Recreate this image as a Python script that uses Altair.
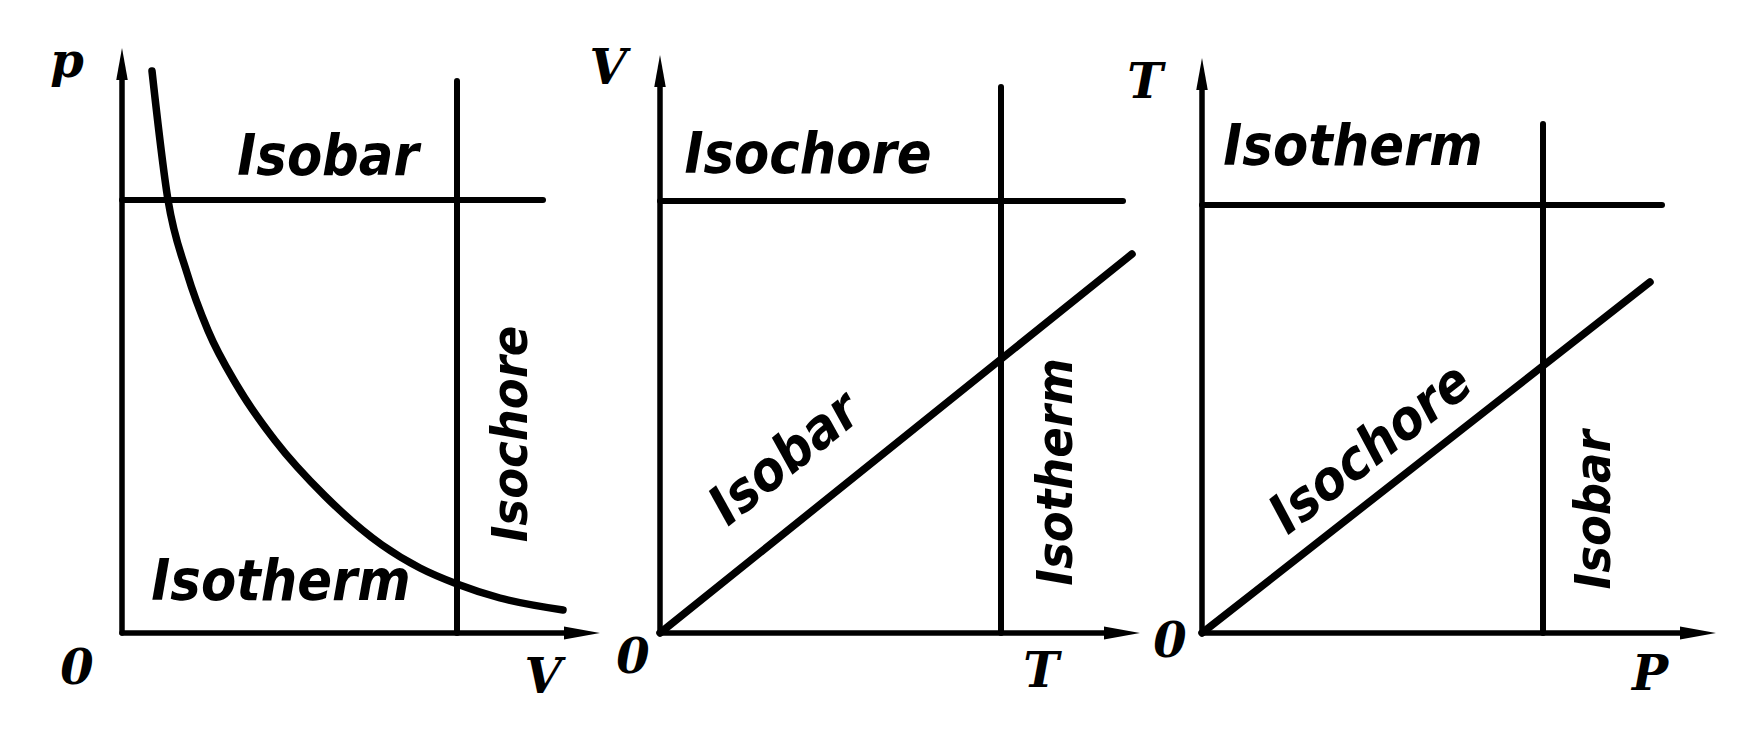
import altair as alt
import pandas as pd

# ---------------- Panel 1 : p-V diagram ----------------
pv_x_axis_end = 9.56
pv_y_axis_end = 11.70
pv_isobar_p = 8.66
pv_isobar_V = [0.0, 8.42]
pv_isochore_V = 6.70
pv_isochore_p = [0.0, 11.04]
pv_isotherm_V = [0.60, 0.92, 1.30, 1.72, 2.30, 3.06, 4.06, 5.20, 5.96, 6.70, 7.56, 8.82]
pv_isotherm_p = [11.24, 8.66, 7.20, 6.05, 4.95, 3.85, 2.74, 1.76, 1.30, 0.98, 0.70, 0.46]
pv_curve_names = ["Isobar", "Isotherm", "Isochore"]
pv_curve_label_x = [4.12, 3.18, 7.80]
pv_curve_label_y = [9.50, 1.00, 3.98]
pv_curve_label_angle = [0, 0, 270]
pv_axis_names = ["p", "0", "V"]
pv_axis_label_x = [-1.10, -0.90, 8.42]
pv_axis_label_y = [11.40, -0.74, -0.92]

# ---------------- Panel 2 : V-T diagram ----------------
vt_x_axis_end = 9.60
vt_y_axis_end = 11.56
vt_isochore_V = 8.64
vt_isochore_T = [0.0, 9.26]
vt_isotherm_T = 6.82
vt_isotherm_V = [0.0, 10.92]
vt_isobar_T = [0.0, 9.44]
vt_isobar_V = [0.0, 7.58]
vt_curve_names = ["Isochore", "Isobar", "Isotherm"]
vt_curve_label_x = [2.96, 2.50, 7.94]
vt_curve_label_y = [9.55, 3.48, 3.22]
vt_curve_label_angle = [0, 321, 270]
vt_axis_names = ["V", "0", "T"]
vt_axis_label_x = [-1.04, -0.54, 7.62]
vt_axis_label_y = [11.26, -0.52, -0.80]

# ---------------- Panel 3 : T-p diagram ----------------
tp_x_axis_end = 10.28
tp_y_axis_end = 11.50
tp_isotherm_T = 8.56
tp_isotherm_p = [0.0, 9.20]
tp_isobar_p = 6.82
tp_isobar_T = [0.0, 10.18]
tp_isochore_p = [0.0, 8.96]
tp_isochore_T = [0.0, 7.02]
tp_curve_names = ["Isotherm", "Isochore", "Isobar"]
tp_curve_label_x = [3.02, 3.38, 7.86]
tp_curve_label_y = [9.70, 3.68, 2.46]
tp_curve_label_angle = [0, 322, 270]
tp_axis_names = ["T", "0", "P"]
tp_axis_label_x = [-1.14, -0.64, 8.96]
tp_axis_label_y = [10.98, -0.20, -0.86]

# ---------------- style / layout ----------------
PANEL_W, PANEL_H = 582, 720
Y_DOMAIN = [-1.9, 12.5]
AXIS_W, LINE_W, CURVE_W = 5.5, 6, 7.5
ARROW_BACK = 0.40  # axis line stops under the arrow head
UP_ARROW = "M0,0L-0.36,2L0.36,2Z"
RIGHT_ARROW = "M0,0L-2,-0.36L-2,0.36Z"
LABEL_FONT = "DejaVu Sans Condensed, DejaVu Sans"
AXIS_FONT = "DejaVu Serif"
SIZE_H, SIZE_D, SIZE_V = 57, 55, 50


def enc_xy(xdom):
    return dict(
        x=alt.X("x:Q", scale=alt.Scale(domain=xdom, nice=False, zero=False), axis=None),
        y=alt.Y("y:Q", scale=alt.Scale(domain=Y_DOMAIN, nice=False, zero=False), axis=None),
    )


def text_layer(df, e, size):
    return alt.Chart(df).mark_text(
        font=LABEL_FONT, fontStyle="italic", fontWeight="bold", fontSize=size,
        color="black", align="center", baseline="middle"
    ).encode(**e, text="t:N", angle=alt.Angle("a:Q", scale=None))


def panel(xdom, x_end, y_end, segments, curve, labels, axis_labels):
    segs = pd.DataFrame(segments, columns=["x", "y", "x2", "y2", "w"])
    axes = pd.DataFrame(
        [[0, 0, x_end - ARROW_BACK, 0, AXIS_W], [0, 0, 0, y_end - ARROW_BACK, AXIS_W]],
        columns=["x", "y", "x2", "y2", "w"],
    )
    allsegs = pd.concat([axes, segs], ignore_index=True)
    e = enc_xy(xdom)
    layers = [
        alt.Chart(allsegs).mark_rule(color="black", strokeCap="round").encode(
            **e, x2="x2:Q", y2="y2:Q", strokeWidth=alt.StrokeWidth("w:Q", scale=None)
        ),
        alt.Chart(pd.DataFrame({"x": [0], "y": [y_end]})).mark_point(
            shape=UP_ARROW, size=1024, filled=True, color="black", opacity=1, strokeWidth=0
        ).encode(**e),
        alt.Chart(pd.DataFrame({"x": [x_end], "y": [0]})).mark_point(
            shape=RIGHT_ARROW, size=1296, filled=True, color="black", opacity=1, strokeWidth=0
        ).encode(**e),
    ]
    if curve is not None:
        layers.append(
            alt.Chart(curve).mark_line(
                color="black", strokeWidth=CURVE_W, interpolate="monotone", strokeCap="round"
            ).encode(**e, order="o:Q")
        )
    horiz = labels[labels["a"] == 0]
    vert = labels[labels["a"] == 270]
    diag = labels[(labels["a"] != 0) & (labels["a"] != 270)]
    for df, size in ((horiz, SIZE_H), (vert, SIZE_V), (diag, SIZE_D)):
        if len(df):
            layers.append(text_layer(df, e, size))
    layers.append(
        alt.Chart(axis_labels).mark_text(
            font=AXIS_FONT, fontStyle="italic", fontWeight="bold", fontSize=48, color="black",
            align="center", baseline="middle"
        ).encode(**e, text="t:N")
    )
    return alt.layer(*layers).properties(width=PANEL_W, height=PANEL_H)


def lab(names, xs, ys, angles):
    return pd.DataFrame({"t": names, "x": xs, "y": ys, "a": angles})


def alab(names, xs, ys):
    return pd.DataFrame({"t": names, "x": xs, "y": ys})


# Panel 1
p1_segs = [
    [pv_isobar_V[0], pv_isobar_p, pv_isobar_V[1], pv_isobar_p, LINE_W],
    [pv_isochore_V, pv_isochore_p[0], pv_isochore_V, pv_isochore_p[1], LINE_W],
]
p1_curve = pd.DataFrame({"x": pv_isotherm_V, "y": pv_isotherm_p, "o": range(len(pv_isotherm_V))})
p1 = panel([-2.28, 9.36], pv_x_axis_end, pv_y_axis_end, p1_segs, p1_curve,
           lab(pv_curve_names, pv_curve_label_x, pv_curve_label_y, pv_curve_label_angle),
           alab(pv_axis_names, pv_axis_label_x, pv_axis_label_y))

# Panel 2
p2_segs = [
    [vt_isochore_T[0], vt_isochore_V, vt_isochore_T[1], vt_isochore_V, LINE_W],
    [vt_isotherm_T, vt_isotherm_V[0], vt_isotherm_T, vt_isotherm_V[1], LINE_W],
    [vt_isobar_T[0], vt_isobar_V[0], vt_isobar_T[1], vt_isobar_V[1], CURVE_W],
]
p2 = panel([-1.40, 10.24], vt_x_axis_end, vt_y_axis_end, p2_segs, None,
           lab(vt_curve_names, vt_curve_label_x, vt_curve_label_y, vt_curve_label_angle),
           alab(vt_axis_names, vt_axis_label_x, vt_axis_label_y))

# Panel 3
p3_segs = [
    [tp_isotherm_p[0], tp_isotherm_T, tp_isotherm_p[1], tp_isotherm_T, LINE_W],
    [tp_isobar_p, tp_isobar_T[0], tp_isobar_p, tp_isobar_T[1], LINE_W],
    [tp_isochore_p[0], tp_isochore_T[0], tp_isochore_p[1], tp_isochore_T[1], CURVE_W],
]
p3 = panel([-0.60, 11.04], tp_x_axis_end, tp_y_axis_end, p3_segs, None,
           lab(tp_curve_names, tp_curve_label_x, tp_curve_label_y, tp_curve_label_angle),
           alab(tp_axis_names, tp_axis_label_x, tp_axis_label_y))

chart = (
    alt.hconcat(p1, p2, p3, spacing=0, bounds="flush")
    .properties(padding=0, background="white")
    .configure_view(strokeWidth=0)
)

chart.save("out.html", embed_options={"renderer": "svg", "actions": False})
